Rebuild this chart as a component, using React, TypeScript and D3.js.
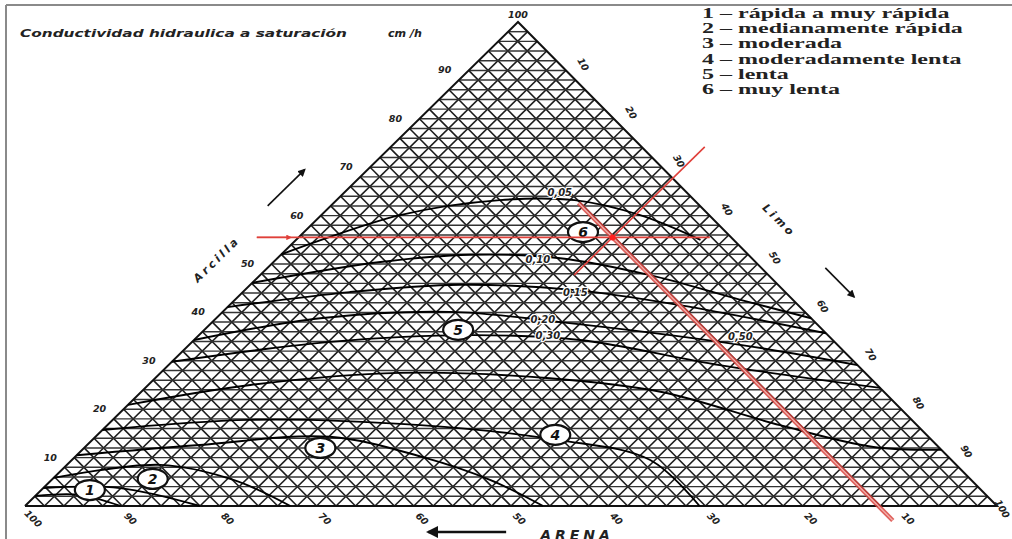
import React from 'react';
import * as d3 from 'd3';

const W = 1012;
const H = 539;

// ticks of the three axes (%)
const tickValues = [10, 20, 30, 40, 50, 60, 70, 80, 90];

// legend
const legendItems = [
  '1 – rápida a muy rápida',
  '2 – medianamente rápida',
  '3 – moderada',
  '4 – moderadamente lenta',
  '5 – lenta',
  '6 – muy lenta',
];

// conductivity curves, points as [arena, arcilla] in %
const curveA = [[48, 52], [31.8, 60.1], [20, 63.2], [12.3, 63.2], [7.1, 60.1], [3.4, 55]];
const curveB = [[53.9, 46.1], [38.6, 50.4], [28.6, 51.9], [19.7, 51.2], [12.2, 47.7], [5.4, 42.6], [0, 38.8]];
const curveC = [[58.9, 41.1], [44.8, 44.2], [32.7, 45.7], [21.4, 44.6], [12.2, 41.5], [0, 35.7]];
const curveD = [[65.7, 34.3], [50.5, 38.8], [36.5, 40.1], [26.2, 38], [10, 33.3], [0, 29.1]];
const curveE = [[70.2, 29.8], [51.9, 33.9], [36.8, 35.3], [26, 34.3], [14.2, 29.1], [0, 24.4]];
const curveF = [[79.1, 20.9], [64.5, 25], [47.9, 27.5], [33, 26.4], [23, 23.6], [14.1, 16.7], [6.7, 12.2], [0, 11.6]];
const curveG = [[84.3, 15.7], [68.1, 17.8], [51.1, 16.7], [38.3, 13.6], [31, 9.5], [30.6, 0]];
const curveH = [[89.5, 10.5], [75.8, 12.6], [61.6, 14.3], [54.1, 10.1], [49.5, 5.4], [46.7, 0]];
const curveI = [[94.2, 5.8], [81.9, 8.5], [75.9, 5.4], [72.7, 0]];
const curveJ = [[96.3, 3.7], [88.4, 3.7], [82, 0]];
const curveK = [[97.9, 2.1], [93.2, 2.3], [90.2, 0]];
const curves = [curveA, curveB, curveC, curveD, curveE, curveF, curveG, curveH, curveI, curveJ, curveK];

// curve labels [text, arena, arcilla]
const curveLabels: [string, number, number][] = [
  ['0,05', 13.1, 64.7],
  ['0,10', 22.2, 50.8],
  ['0,15', 21.7, 44.0],
  ['0,20', 27.8, 38.4],
  ['0,30', 28.9, 35.1],
  ['0,50', 9.2, 34.9],
];

// class numbers [label, arena, arcilla]
const classMarks: [string, number, number][] = [
  ['1', 91.7, 3.3],
  ['2', 84.1, 5.6],
  ['3', 63.7, 12.0],
  ['4', 38.2, 14.7],
  ['5', 37.5, 36.4],
  ['6', 14.7, 56.6],
];

// example sample read on the chart (red lines)
const sample = { arena: 12.2, limo: 32.3, arcilla: 55.5 };
const clayLineSilt = [-4.3, 42.3];
const siltLineClay = [47.7, 74.2];
const sandLineClay = [-3, 62.6];

export default function App() {
  const x0 = 25;
  const clayY = d3.scaleLinear().domain([0, 100]).range([506, 22]);
  const siltX = d3.scaleLinear().domain([0, 100]).range([0, 972]);
  const clayX = d3.scaleLinear().domain([0, 100]).range([0, 493]);

  const proj = (sand: number, clay: number): [number, number] => {
    const silt = 100 - sand - clay;
    return [x0 + siltX(silt) + clayX(clay), clayY(clay)];
  };

  const smooth = d3.line().curve(d3.curveCatmullRom.alpha(0.5));
  const straight = d3.line();

  const levels = d3.range(2, 100, 2);
  const gridH = levels.map((v) => [proj(100 - v, v), proj(0, v)]);
  const gridS = levels.map((v) => [proj(v, 0), proj(v, 100 - v)]);
  const gridL = levels.map((v) => [proj(100 - v, 0), proj(0, 100 - v)]);

  const outline = [proj(100, 0), proj(0, 0), proj(0, 100), proj(100, 0)];

  const clayRed = clayLineSilt.map((s) => proj(100 - sample.arcilla - s, sample.arcilla));
  const siltRed = siltLineClay.map((c) => proj(100 - sample.limo - c, c));
  const sandRed = sandLineClay.map((c) => proj(sample.arena, c));
  const dot = proj(sample.arena, sample.arcilla);

  const tickFont = {
    fontFamily: 'DejaVu Sans',
    fontStyle: 'italic',
    fontWeight: 'bold',
    fontSize: 9.5,
    fill: '#222',
  } as const;

  // arrows along the sides
  const arcArrow = [proj(100 - 62, 62), proj(100 - 69.5, 69.5)].map(([x, y]) => [x - 63, y]);
  const limoArrow = [proj(0, 100 - 50.8), proj(0, 100 - 56.8)].map(([x, y]) => [x + 64, y]);
  const arcLabel = proj(100 - 51, 51);
  const limoLabel = proj(0, 100 - 41);
  const arenaArrow = [proj(50.5, 0), proj(58.5, 0)].map(([x, y]) => [x, y + 26]);
  const arenaLabel = proj(47, 0);

  return (
    <svg
      width={W}
      height={H}
      style={{ position: 'absolute', left: 0, top: 0, background: '#fff' }}
    >
      <defs>
        <marker id="blk" viewBox="0 0 10 10" refX="8" refY="5" markerWidth="5" markerHeight="5" orient="auto">
          <path d="M0,0 L10,5 L0,10 z" fill="#111" />
        </marker>
        <marker id="red" viewBox="0 0 10 10" refX="8" refY="5" markerWidth="5" markerHeight="4" orient="auto">
          <path d="M0,0 L10,5 L0,10 z" fill="#e0403a" />
        </marker>
      </defs>

      {/* frame */}
      <line x1={6} y1={5} x2={W} y2={5} stroke="#8a8a8a" strokeWidth={2} />
      <line x1={6} y1={5} x2={6} y2={H} stroke="#8a8a8a" strokeWidth={2} />

      {/* title */}
      <text
        x={20}
        y={37}
        textLength={327}
        lengthAdjust="spacingAndGlyphs"
        style={{ fontFamily: 'DejaVu Sans', fontStyle: 'italic', fontWeight: 'bold', fontSize: 10.5, fill: '#222' }}
      >
        Conductividad hidraulica a saturación
      </text>
      <text
        x={388}
        y={37}
        textLength={34}
        lengthAdjust="spacingAndGlyphs"
        style={{ fontFamily: 'DejaVu Sans', fontStyle: 'italic', fontWeight: 'bold', fontSize: 10.5, fill: '#222' }}
      >
        cm /h
      </text>

      {/* legend */}
      <g transform="translate(702,0) scale(1.55,1)">
        {legendItems.map((t, i) => (
          <text
            key={t}
            x={0}
            y={18 + i * 15.2}
            style={{ fontFamily: 'Liberation Serif', fontWeight: 'bold', fontSize: 15.5, fill: '#222' }}
          >
            {t}
          </text>
        ))}
      </g>

      {/* grid */}
      <g stroke="#1c1c1c" strokeWidth={1.6} fill="none">
        {gridS.map((p, i) => (
          <path key={'s' + i} d={straight(p as [number, number][]) || ''} />
        ))}
        {gridL.map((p, i) => (
          <path key={'l' + i} d={straight(p as [number, number][]) || ''} />
        ))}
      </g>
      <g stroke="#333" strokeWidth={1.45} fill="none">
        {gridH.map((p, i) => (
          <path key={'h' + i} d={straight(p as [number, number][]) || ''} />
        ))}
      </g>
      <path d={straight(outline as [number, number][]) || ''} fill="none" stroke="#111" strokeWidth={2} />

      {/* conductivity curves */}
      <g stroke="#000" strokeWidth={1.9} fill="none">
        {curves.map((c, i) => (
          <path key={'c' + i} d={smooth(c.map(([s, a]) => proj(s, a))) || ''} />
        ))}
      </g>

      {/* curve labels */}
      {curveLabels.map(([t, s, a]) => {
        const [x, y] = proj(s, a);
        return (
          <text
            key={t}
            x={x}
            y={y + 3}
            textAnchor="middle"
            style={{
              fontFamily: 'DejaVu Sans',
              fontStyle: 'italic',
              fontWeight: 'bold',
              fontSize: 10,
              fill: '#222',
              stroke: '#fff',
              strokeWidth: 2.5,
              paintOrder: 'stroke',
            }}
          >
            {t}
          </text>
        );
      })}

      {/* class numbers */}
      {classMarks.map(([t, s, a]) => {
        const [x, y] = proj(s, a);
        return (
          <g key={'m' + t} transform={`translate(${x},${y})`}>
            <ellipse rx={15} ry={10} fill="#fff" stroke="#111" strokeWidth={2.2} />
            <text
              y={5}
              textAnchor="middle"
              style={{ fontFamily: 'DejaVu Sans', fontStyle: 'italic', fontWeight: 'bold', fontSize: 14, fill: '#111' }}
            >
              {t}
            </text>
          </g>
        );
      })}

      {/* red reading lines */}
      <path d={straight(sandRed) || ''} stroke="#d9443e" strokeWidth={4.5} strokeOpacity={0.85} fill="none" />
      <path d={straight(sandRed) || ''} stroke="#f3b3b0" strokeWidth={1.2} fill="none" />
      <path d={straight(siltRed) || ''} stroke="#e0403a" strokeWidth={1.6} fill="none" />
      <path d={straight(clayRed) || ''} stroke="#e0403a" strokeWidth={1.6} fill="none" />
      <path
        d={straight([clayRed[0], [clayRed[0][0] + 34, clayRed[0][1]]]) || ''}
        stroke="#e0403a"
        strokeWidth={1.4}
        markerEnd="url(#red)"
        fill="none"
      />
      <circle cx={dot[0]} cy={dot[1]} r={3} fill="#ff2020" />

      {/* clay ticks, left side */}
      {tickValues.map((t) => {
        const [x, y] = proj(100 - t, t);
        return (
          <text key={'ct' + t} x={x - 24} y={y + 3} textAnchor="middle" style={tickFont}>
            {t}
          </text>
        );
      })}
      {/* silt ticks, right side */}
      {tickValues.map((t) => {
        const [x, y] = proj(0, 100 - t);
        return (
          <text
            key={'lt' + t}
            transform={`translate(${x + 17},${y - 6}) rotate(60)`}
            textAnchor="middle"
            dy={3}
            style={tickFont}
          >
            {t}
          </text>
        );
      })}
      {/* sand ticks, bottom */}
      {[...tickValues, 100].map((t) => {
        const [x, y] = proj(t, 0);
        return (
          <text
            key={'st' + t}
            transform={`translate(${x + 8},${y + 13}) rotate(45)`}
            textAnchor="middle"
            dy={3}
            style={tickFont}
          >
            {t}
          </text>
        );
      })}
      {/* corner labels */}
      <text x={proj(0, 100)[0]} y={proj(0, 100)[1] - 4} textAnchor="middle" style={tickFont}>
        100
      </text>
      <text
        transform={`translate(${proj(0, 0)[0] + 5},${proj(0, 0)[1] + 3}) rotate(60)`}
        textAnchor="middle"
        dy={3}
        style={tickFont}
      >
        100
      </text>

      {/* axis names and arrows */}
      <path d={straight(arcArrow as [number, number][]) || ''} stroke="#111" strokeWidth={1.6} markerEnd="url(#blk)" />
      <path d={straight(limoArrow as [number, number][]) || ''} stroke="#111" strokeWidth={1.6} markerEnd="url(#blk)" />
      <path d={straight(arenaArrow as [number, number][]) || ''} stroke="#111" strokeWidth={2.4} markerEnd="url(#blk)" />
      <text
        transform={`translate(${arcLabel[0] - 60},${arcLabel[1]}) rotate(-44.5)`}
        textAnchor="middle"
        dy={4}
        style={{ ...tickFont, fontSize: 11, letterSpacing: 3 }}
      >
        Arcilla
      </text>
      <text
        transform={`translate(${limoLabel[0] + 65},${limoLabel[1]}) rotate(45)`}
        textAnchor="middle"
        dy={4}
        style={{ ...tickFont, fontSize: 11, letterSpacing: 3 }}
      >
        Limo
      </text>
      <text
        x={arenaLabel[0]}
        y={arenaLabel[1] + 34}
        textAnchor="start"
        style={{ ...tickFont, fontSize: 14, letterSpacing: 4 }}
      >
        ARENA
      </text>
    </svg>
  );
}
